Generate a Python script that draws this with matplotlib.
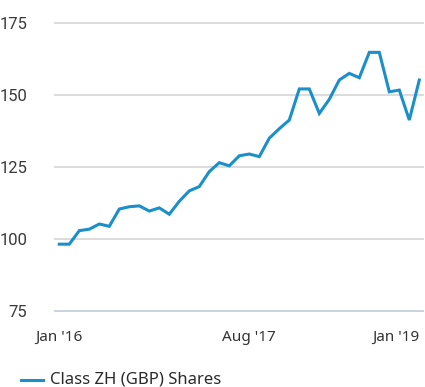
import matplotlib.pyplot as plt
from matplotlib.lines import Line2D

# monthly share price, Jan 2016 .. Jan 2019
months = ["Jan '16", "Feb '16", "Mar '16", "Apr '16", "May '16", "Jun '16", "Jul '16",
          "Aug '16", "Sep '16", "Oct '16", "Nov '16", "Dec '16", "Jan '17", "Feb '17",
          "Mar '17", "Apr '17", "May '17", "Jun '17", "Jul '17", "Aug '17", "Sep '17",
          "Oct '17", "Nov '17", "Dec '17", "Jan '18", "Feb '18", "Mar '18", "Apr '18",
          "May '18", "Jun '18", "Jul '18", "Aug '18", "Sep '18", "Oct '18", "Nov '18",
          "Dec '18", "Jan '19"]
zh_gbp = [98.1, 98.1, 102.8, 103.3, 105.1, 104.3, 110.3, 111.1, 111.4, 109.6,
          110.7, 108.5, 113.0, 116.6, 118.1, 123.3, 126.4, 125.3, 128.8, 129.4,
          128.5, 134.9, 138.2, 141.2, 152.0, 152.0, 143.5, 148.4, 155.1, 157.4,
          155.9, 164.7, 164.7, 151.0, 151.6, 141.2, 155.1]
yticks = [75, 100, 125, 150, 175]
xtick_idx = [0, 19, 36]
series_name = "Class ZH (GBP) Shares"

blue = "#1a8fc9"

fig = plt.figure(figsize=(4.25, 3.87), dpi=100)
ax = fig.add_axes([55 / 425, 1 - 310.7 / 387, 368 / 425, 288 / 387])

for y in yticks:
    col = "#c9d3df" if y == yticks[0] else "#dcdcdc"
    ax.axhline(y, color=col, lw=1.4, zorder=1, clip_on=False)

x = list(range(len(zh_gbp)))
ax.plot(x, zh_gbp, color=blue, lw=2.2, solid_joinstyle="miter", zorder=3, clip_on=False)

ax.set_xlim(-0.43, 36.37)
ax.set_ylim(75, 175)
for s in ax.spines.values():
    s.set_visible(False)

ax.set_yticks(yticks)
ax.set_yticklabels([str(v) for v in yticks], fontsize=12, color="#3a3a3a",
                   family=["DejaVu Sans Condensed", "Roboto"])
ax.tick_params(axis="y", length=0, pad=20)

ax.set_xticks(xtick_idx)
ax.set_xticklabels([months[i] for i in xtick_idx], fontsize=11, color="#333333",
                   family="Noto Sans")
ax.get_xticklabels()[-1].set_horizontalalignment("right")
ax.get_xticklabels()[-1].set_x(36.35)
ax.tick_params(axis="x", length=0, pad=14)

# legend drawn by hand below the axes
fig.add_artist(Line2D([21 / 425, 43 / 425], [1 - 380 / 387] * 2, color=blue, lw=2.2))
fig.text(50 / 425, 1 - 380 / 387, series_name, fontsize=12, color="#2a2a2a",
         family="Noto Sans", va="center", ha="left")

fig.savefig("out.png", dpi=100)
